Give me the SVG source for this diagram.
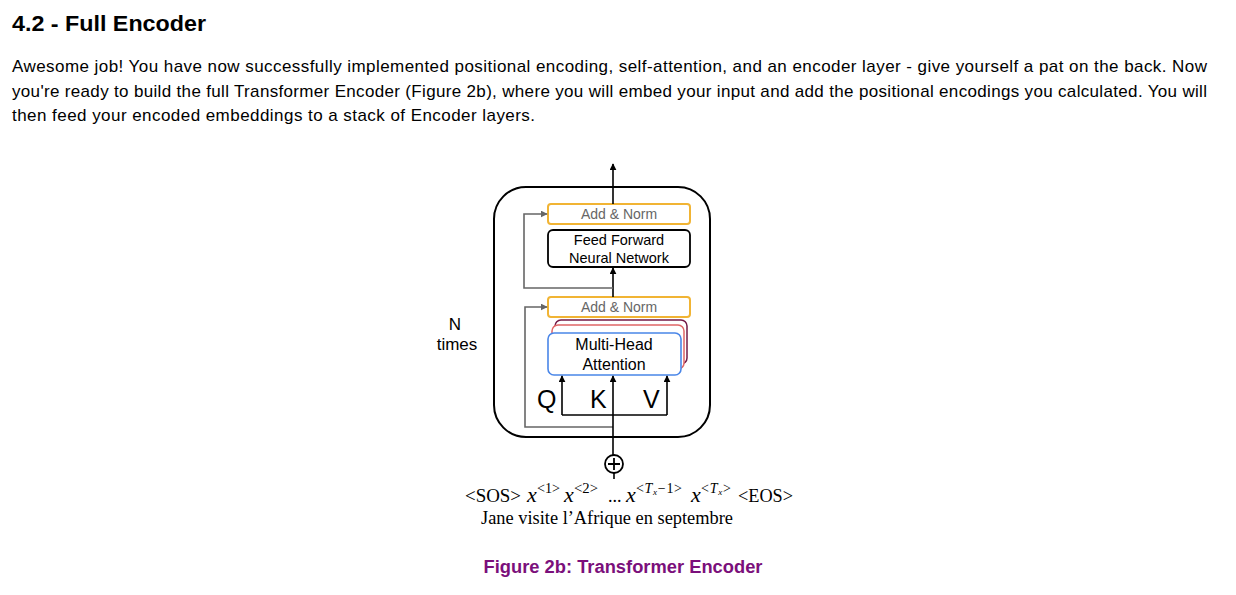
<svg xmlns="http://www.w3.org/2000/svg" width="1236" height="595" viewBox="0 0 1236 595">
<defs>
<marker id="ab" viewBox="0 0 10 10" refX="9" refY="5" markerWidth="7" markerHeight="7" orient="auto-start-reverse" markerUnits="userSpaceOnUse"><path d="M0,0 L10,5 L0,10 z" fill="#000"/></marker>
<marker id="ag" viewBox="0 0 10 10" refX="9" refY="5" markerWidth="7" markerHeight="7" orient="auto-start-reverse" markerUnits="userSpaceOnUse"><path d="M0,0 L10,5 L0,10 z" fill="#666"/></marker>
</defs>
<style>
.t{font-family:"Liberation Sans",Arial,sans-serif;fill:#000}
.p{font-size:17px}
.an{fill:#fff;stroke:#F1B434;stroke-width:2}
.ant{font-family:"Liberation Sans",Arial,sans-serif;font-size:14px;fill:#666;text-anchor:middle}
.bt{font-family:"Liberation Sans",Arial,sans-serif;font-size:14.5px;fill:#000;text-anchor:middle}
.c{fill:none;stroke:#000;stroke-width:1.6}
.g{fill:none;stroke:#666;stroke-width:1.6}
.s{font-family:"Liberation Serif","Times New Roman",serif;font-size:18px;fill:#000}
.si{font-family:"Liberation Serif","Times New Roman",serif;font-size:22px;font-style:italic;fill:#000}
.sup{font-family:"Liberation Serif","Times New Roman",serif;font-size:14px;fill:#000}
</style>
<rect width="1236" height="595" fill="#fff"/>
<text class="t" x="12" y="31" font-size="22" font-weight="bold" textLength="194" lengthAdjust="spacingAndGlyphs">4.2 - Full Encoder</text>
<text class="t p" x="12" y="72" textLength="1195" lengthAdjust="spacing">Awesome job! You have now successfully implemented positional encoding, self-attention, and an encoder layer - give yourself a pat on the back. Now</text>
<text class="t p" x="12" y="97" textLength="1195" lengthAdjust="spacing">you're ready to build the full Transformer Encoder (Figure 2b), where you will embed your input and add the positional encodings you calculated. You will</text>
<text class="t p" x="12" y="121" textLength="523" lengthAdjust="spacing">then feed your encoded embeddings to a stack of Encoder layers.</text>

<g id="encoder-block">
<rect x="494" y="187" width="216" height="250" rx="32" fill="none" stroke="#000" stroke-width="2"/>
</g>
<g id="n-times">
<text class="t" x="455" y="330" font-size="17" text-anchor="middle">N</text>
<text class="t" x="457" y="350" font-size="17" text-anchor="middle">times</text>
</g>
<g id="add-norm-top">
<rect class="an" x="548" y="204" width="142" height="20" rx="3"/>
<text class="ant" x="619" y="219">Add &amp; Norm</text>
</g>
<g id="feed-forward">
<rect x="548" y="230" width="142" height="37" rx="5" fill="#fff" stroke="#000" stroke-width="1.8"/>
<text class="bt" x="619" y="245">Feed Forward</text>
<text class="bt" x="619" y="263">Neural Network</text>
</g>
<g id="add-norm-bottom">
<rect class="an" x="548" y="297" width="142" height="20" rx="3"/>
<text class="ant" x="619" y="312">Add &amp; Norm</text>
</g>
<g id="multi-head-attention">
<rect x="555" y="320" width="132" height="44" rx="6" fill="#fff" stroke="#741B47" stroke-width="1.5"/>
<rect x="552" y="325" width="132" height="44" rx="6" fill="#fff" stroke="#E06666" stroke-width="1.5"/>
<rect x="548" y="333" width="133" height="42" rx="6" fill="#fff" stroke="#4A86E8" stroke-width="1.6"/>
<text class="t" x="614" y="350" font-size="16" text-anchor="middle">Multi-Head</text>
<text class="t" x="614" y="370" font-size="16" text-anchor="middle">Attention</text>
</g>
<g id="qkv-labels">
<text class="t" x="537" y="408" font-size="25">Q</text>
<text class="t" x="590" y="408" font-size="25">K</text>
<text class="t" x="643" y="408" font-size="25">V</text>
</g>
<g id="positional-add">
<circle cx="614" cy="464" r="9" fill="#fff" stroke="#000" stroke-width="1.8"/>
<path d="M608,464 H620 M614,458 V470" stroke="#000" stroke-width="1.8"/>
</g>
<g id="connectors">
<path class="c" d="M613,204 V164" marker-end="url(#ab)"/>
<path class="c" d="M613,297 V268" marker-end="url(#ab)"/>
<path class="g" d="M613,288 H524 V214 H547" marker-end="url(#ag)"/>
<path class="g" d="M613,427 H525 V307 H547" marker-end="url(#ag)"/>
<path class="c" d="M613,455 V376" marker-end="url(#ab)"/>
<path class="c" d="M562,415 V376" marker-end="url(#ab)"/>
<path class="c" d="M667,415 V376" marker-end="url(#ab)"/>
<path class="c" d="M562,415 H667"/>
<path class="c" d="M614,473 V479"/>
</g>
<g id="input-tokens">
<text class="s" x="465" y="502" textLength="56" lengthAdjust="spacingAndGlyphs">&lt;SOS&gt;</text>
<text class="si" x="527" y="502">x</text><text class="sup" x="537" y="493" textLength="23" lengthAdjust="spacingAndGlyphs">&lt;1&gt;</text>
<text class="si" x="564" y="502">x</text><text class="sup" x="574" y="493" textLength="24" lengthAdjust="spacingAndGlyphs">&lt;2&gt;</text>
<text class="s" x="608" y="502" font-size="14">...</text>
<text class="si" x="626" y="502">x</text><text class="sup" x="636" y="493" textLength="46" lengthAdjust="spacing">&lt;<tspan font-style="italic">T</tspan><tspan font-size="9" font-style="italic" dy="2">x</tspan><tspan dy="-2">−1&gt;</tspan></text>
<text class="si" x="691" y="502">x</text><text class="sup" x="701" y="493" textLength="30" lengthAdjust="spacing">&lt;<tspan font-style="italic">T</tspan><tspan font-size="9" font-style="italic" dy="2">x</tspan><tspan dy="-2">&gt;</tspan></text>
<text class="s" x="738" y="502" textLength="55" lengthAdjust="spacingAndGlyphs">&lt;EOS&gt;</text>
<text class="s" x="481" y="524" textLength="252" lengthAdjust="spacingAndGlyphs">Jane visite l’Afrique en septembre</text>
</g>
<text x="623" y="573" font-family="Liberation Sans, Arial, sans-serif" font-size="18" font-weight="bold" fill="#7B0F7B" text-anchor="middle" textLength="279" lengthAdjust="spacingAndGlyphs">Figure 2b: Transformer Encoder</text>
</svg>
